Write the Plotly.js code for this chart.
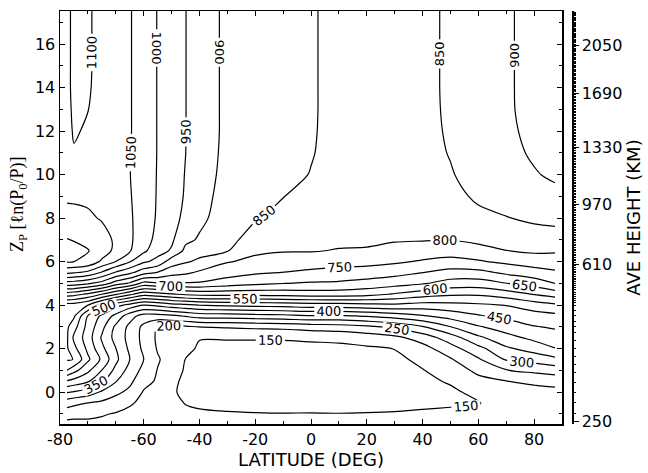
<!DOCTYPE html>
<html><head><meta charset="utf-8">
<script src="https://cdn.plot.ly/plotly-3.0.1.min.js"></script>
<style>html,body{margin:0;padding:0;background:#fff}</style>
</head><body><div id="chart" style="width:648px;height:473px"></div>
<script>
// Latitude columns (deg) and log-pressure rows Zp
const latitude = [-87.5,-85,-80,-75,-70,-65,-60,-55,-50,-45,-40,-30,-20,-10,0,10,20,30,40,50,60,70,80,87.5];
const zpRows = [-1.45,-1,-0.5,0,0.5,1,1.5,2,2.5,3,3.5,4,4.5,5,5.5,6,6.5,7,8,9,10,11,12,13,14,15,16,17.6];

// Temperature (K) along each latitude column, bottom to top
const tLatM87_5 = [185,225,270,355,445,549,604,606,607,609,615,628,775,930,1060,1155,1168,1152,1118,1092,1085,1088,1092,1094,1095,1095,1095,1095];
const tLatM85   = [185,218,262,346,432,518,599,565,540,570,608,628,768,925,1055,1150,1163,1148,1115,1092,1088,1098,1102.5,1104,1105,1105,1105,1105];
const tLatM80   = [188,214,250,328,406,461,510,488,475,482,497,601,740,907,1038,1140,1152,1140,1110,1088,1085,1090,1097,1100.5,1103,1104,1104,1104];
const tLatM75   = [190,204,240,293,358,399,440,412,394,415,440,530,700,880,995,1090,1130,1125,1095,1080,1078,1082,1086,1089,1090,1090,1090,1090];
const tLatM70   = [185,197,226,262,303,336,362,351,333,340,385,470,655,825,945,1049,1085,1090,1082,1075,1072,1073,1075,1075,1075,1075,1075,1075];
const tLatM65   = [180,190,205,238,262,282,301,290,284,288,320,433,610,793,912,1003,1055,1058,1056,1053,1051,1052,1053,1053,1053,1053,1053,1053];
const tLatM60   = [175,183,190,196,215,235,251,240,235,238,280,400.5,567,733,870,958,1010,1022,1028,1030,1030,1030,1030,1030,1030,1030,1030,1030];
const tLatM55   = [172,178,183,188,194,198,205,196,192,195,280,412,580,745,848,935,968,985,994,996,997,998,998,998,998,998,998,998];
const tLatM50   = [168,170,163,155,158,168,178,182,186,192,290,430,595,738,822,873,945,958,965,970,973,975,975,975,975,975,975,975];
const tLatM45   = [165,160,148,142,143,146,149,162,172,192,305,440,608,745,810,855,888,910,940,946,948,950.5,951,951,951,951,951,951];
const tLatM40   = [162,155,144,138,137,138,140,144,152,201,320,451,615,745,792,842,865,895,910,915,920,923,925,925,925,925,925,925];
const tLatM30   = [160,152,143,136,134,134,136,140,153,205,323,460,617,725,772,803,853,867,878,884,887,889,890,890,890,890,890,890];
const tLatM20   = [158,151,142,135,132,132,134,140,153,210,330,465,617,710,757,789,808,825,855,866,872,876,878,879,880,880,880,880];
const tLatM10   = [157,150.5,141,134,131,130,132,138,154,213,335,470,620,701,749,779,803,815,833,851,858,862,864,866,867,868,868,868];
const tLat0     = [157,151,140,133,130,129,131,137,158,222,345,477,625,695,740,774,803,812,825,838,849,851.5,852,852,852,852,852,852];
const tLat10    = [157,150.5,140,133,130,129,131,138,162,228,342,478,625,692,734,768,797,811,822,832,838,841,843,844,844,844,844,844];
const tLat20    = [158,151,141,134,131,130,133,143,173,240,355,485,617,682,728,765,796,808,820,828,834,837,839,840,840,840,840,840];
const tLat30    = [158,152,142,135,132,133,138,151,188,260,373,490,595,670,717,757,785,804,815,825,831,835,837,838,838,838,838,838];
const tLat40    = [160,154,144,138,141,148,162,182,222,296,395,480,572,655,700.5,745,775,803,815,826,833,837,840,841,842,842,842,842];
const tLat50    = [162,156,146,143,154,172,195,230,275,349,420,485,558,630,683,735,771,801,820,835,847,852,854,855,855,855,855,855];
const tLat60    = [165,158,148,160,185,212,244,285,340,395,445,492,557,627,686,745,781,812,838,858,866,870,872,872,872,872,872,872];
const tLat70    = [168,166,170,178,199,248,305,342,383,423,462,502,575,649,710,760,799,823,848,870,882,889,893,895,895,895,895,895];
const tLat80    = [170,170,175,183,210,262,320,370,413,447,480,525,603,673,730,773,808,828,858,883,897,905,909,911,912,912,912,912];
const tLat87_5  = [172,172,176,185,218,273,337,398,428,456,487,541,621,701,742,779,805,830,862,890,906,915,918,920,920,920,920,920];

// Tick labels
const latTickVals = [-90,-60,-40,-20,0,20,40,60,80];
const latTickText = ['-80','-60','-40','-20','0','20','40','60','80'];
const heightTickText = ['250','610','970','1330','1690','2050'];
const heightTickPos  = [-1.35,5.89,8.64,11.26,13.75,15.95];
// anchors of the height scale (km -> Zp)
const heightAnchorKm = [250,300,350,400,500,610,970,1330,1690,2050,2330];
const heightAnchorZp = [-1.45,0.92,2.76,4.0,5.0,5.89,8.64,11.26,13.75,15.95,17.53];

const cols = [tLatM87_5,tLatM85,tLatM80,tLatM75,tLatM70,tLatM65,tLatM60,tLatM55,tLatM50,tLatM45,tLatM40,tLatM30,tLatM20,tLatM10,tLat0,tLat10,tLat20,tLat30,tLat40,tLat50,tLat60,tLat70,tLat80,tLat87_5];
const z = zpRows.map((_, r) => cols.map(c => c[r]));

// minor ticks on the height axis every 10 km
const minorPos = [];
for (let h = 260; h < 2330; h += 10) {
  if (heightTickText.includes(String(h))) continue;
  for (let i = 0; i < heightAnchorKm.length - 1; i++) {
    if (h >= heightAnchorKm[i] && h <= heightAnchorKm[i+1]) {
      const f = (h - heightAnchorKm[i]) / (heightAnchorKm[i+1] - heightAnchorKm[i]);
      minorPos.push(heightAnchorZp[i] + f * (heightAnchorZp[i+1] - heightAnchorZp[i]));
      break;
    }
  }
}

const font = 'DejaVu Sans, Arial, sans-serif';
const data = [
  {
    type: 'contour', x: latitude, y: zpRows, z: z,
    autocontour: false,
    contours: {start: 150, end: 1150, size: 50, coloring: 'none', showlabels: true,
               labelfont: {family: font, size: 13, color: '#000'}},
    line: {color: '#000', width: 1.2, smoothing: 0.9},
    showscale: false, hoverinfo: 'skip'
  },
  {type: 'scatter', x: [], y: [], yaxis: 'y2', showlegend: false, hoverinfo: 'skip'}
];

const layout = {
  width: 648, height: 473,
  margin: {l: 60, r: 76, t: 11, b: 49},
  paper_bgcolor: '#fff', plot_bgcolor: '#fff',
  showlegend: false,
  font: {family: font, size: 16, color: '#000'},
  xaxis: {
    domain: [0, 502/512], range: [-90, 90],
    tickmode: 'array', tickvals: latTickVals, ticktext: latTickText,
    ticks: 'inside', ticklen: 5, tickwidth: 1, tickcolor: '#000',
    minor: {tickmode: 'linear', tick0: 0, dtick: 10, ticks: 'inside', ticklen: 3, tickcolor: '#000'},
    showline: true, linecolor: '#000', linewidth: 1.5, mirror: 'ticks',
    showgrid: false, zeroline: false,
    tickfont: {family: font, size: 16},
    title: {text: 'LATITUDE (DEG)', font: {family: font, size: 18}, standoff: 4}
  },
  yaxis: {
    range: [-1.47, 17.53], tickmode: 'linear', tick0: 0, dtick: 2,
    ticks: 'inside', ticklen: 5, tickcolor: '#000',
    minor: {tickmode: 'linear', tick0: 0, dtick: 1, ticks: 'inside', ticklen: 3, tickcolor: '#000'},
    showline: true, linecolor: '#000', linewidth: 1.5, mirror: 'ticks',
    showgrid: false, zeroline: false,
    tickfont: {family: font, size: 16}
  },
  yaxis2: {
    overlaying: 'y', anchor: 'free', position: 1, side: 'right',
    range: [-1.47, 17.53],
    tickmode: 'array', tickvals: heightTickPos, ticktext: heightTickText,
    ticks: 'outside', ticklen: 5, tickcolor: '#000',
    minor: {tickmode: 'array', tickvals: minorPos, ticks: 'outside', ticklen: 2.5, tickcolor: '#000'},
    showline: true, linecolor: '#000', linewidth: 1.5,
    showgrid: false, zeroline: false,
    tickfont: {family: font, size: 16},
    title: {text: 'AVE HEIGHT (KM)', font: {family: font, size: 18}, standoff: 6}
  },
  annotations: [{
    text: 'Z<sub>P</sub> [ℓn(P<sub>0</sub>/P)]', textangle: -90,
    xref: 'paper', yref: 'paper', x: -42/512, y: (424-205)/413,
    xanchor: 'center', yanchor: 'middle', showarrow: false,
    font: {family: 'Liberation Serif, Times New Roman, serif', size: 18, color: '#000'}
  }]
};

Plotly.newPlot('chart', data, layout, {staticPlot: true, displayModeBar: false});
</script>
</body></html>
